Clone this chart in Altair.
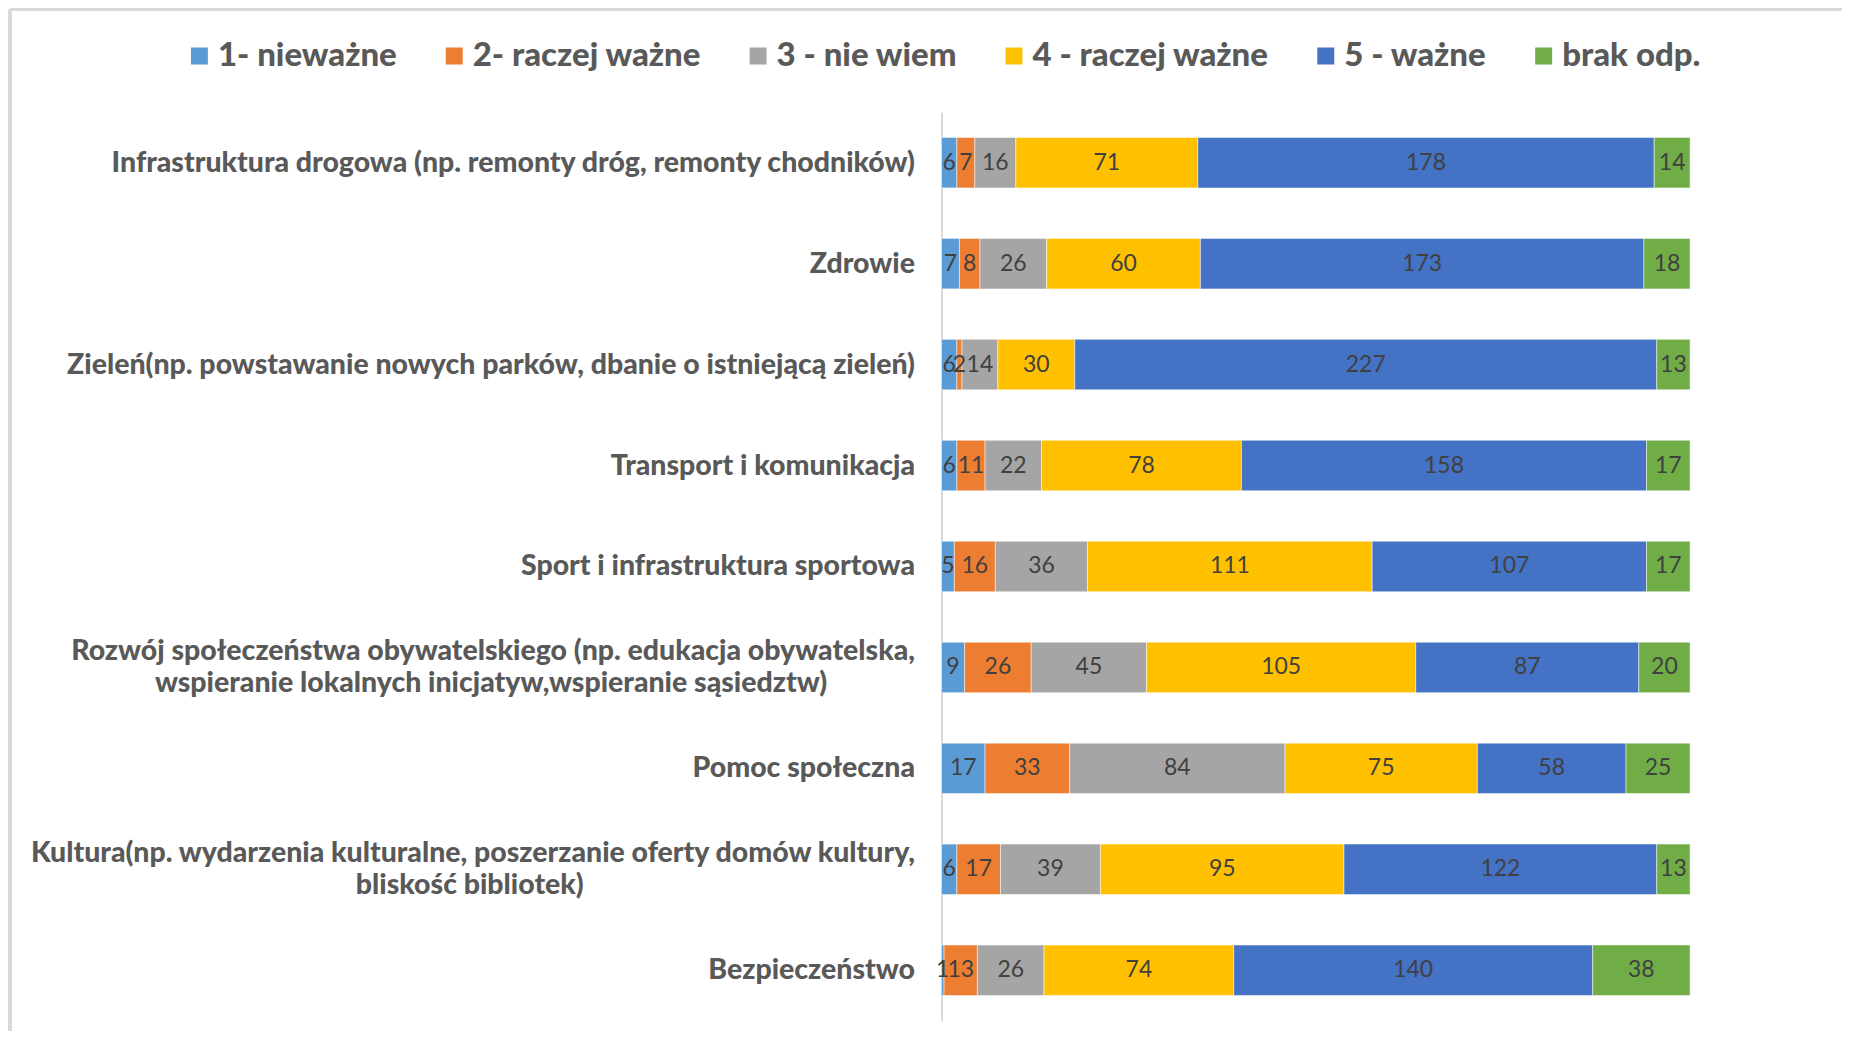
import altair as alt
import pandas as pd

categories = [
    "Infrastruktura drogowa (np. remonty dróg, remonty chodników)",
    "Zdrowie",
    "Zieleń(np. powstawanie nowych parków, dbanie o istniejącą zieleń)",
    "Transport i komunikacja",
    "Sport i infrastruktura sportowa",
    "Rozwój społeczeństwa obywatelskiego (np. edukacja obywatelska,|wspieranie lokalnych inicjatyw,wspieranie sąsiedztw)",
    "Pomoc społeczna",
    "Kultura(np. wydarzenia kulturalne, poszerzanie oferty domów kultury,|bliskość bibliotek)",
    "Bezpieczeństwo",
]
series = ["1- nieważne", "2- raczej ważne", "3 - nie wiem", "4 - raczej ważne", "5 - ważne", "brak odp."]
colors = ["#5B9BD5", "#ED7D31", "#A5A5A5", "#FFC000", "#4472C4", "#70AD47"]

s1 = [6, 7, 6, 6, 5, 9, 17, 6, 1]
s2 = [7, 8, 2, 11, 16, 26, 33, 17, 13]
s3 = [16, 26, 14, 22, 36, 45, 84, 39, 26]
s4 = [71, 60, 30, 78, 111, 105, 75, 95, 74]
s5 = [178, 173, 227, 158, 107, 87, 58, 122, 140]
s6 = [14, 18, 13, 17, 17, 20, 25, 13, 38]
values = [s1, s2, s3, s4, s5, s6]

rows = []
for si, (name, vals) in enumerate(zip(series, values)):
    for ci, cat in enumerate(categories):
        rows.append({"category": cat, "series": name, "idx": si, "value": vals[ci]})
df = pd.DataFrame(rows)

# Multi-line labels: the second line is padded so that it sits centred under the first one
NB = "\u00a0"
ZW = "\u200b"
pad_rozwoj = NB * 13 + ZW
pad_kultura = NB * 49 + ZW
label_expr = (
    "indexof(datum.label, '|') >= 0 ? "
    "[split(datum.label, '|')[0], split(datum.label, '|')[1] + "
    f"(indexof(datum.label, 'Rozwój') >= 0 ? '{pad_rozwoj}' : '{pad_kultura}')] "
    ": datum.label"
)

base = alt.Chart(df).transform_stack(
    stack="value", as_=["x0", "x1"], groupby=["category"], sort=[alt.SortField("idx")]
).transform_calculate(mid="(datum.x0 + datum.x1) / 2")

yenc = alt.Y(
    "category:N",
    sort=categories,
    title=None,
    scale=alt.Scale(paddingInner=0.5, paddingOuter=0.25),
    axis=alt.Axis(
        labelExpr=label_expr,
        labelFont="Lato",
        labelFontWeight=900,
        labelFontSize=28.5,
        labelColor="#595959",
        labelLimit=1000,
        labelPadding=27,
        labelLineHeight=32,
        labelOffset={"condition": {"test": "indexof(datum.label, '|') >= 0", "value": -16}, "value": 0},
        ticks=False,
        domainColor="#D9D9D9",
        domainWidth=2,
        grid=False,
    ),
)

xscale = alt.Scale(domain=[0, 292], nice=False)

bars = base.mark_bar(stroke="white", strokeWidth=0.5).encode(
    y=yenc,
    x=alt.X("x0:Q", scale=xscale, axis=None),
    x2="x1:Q",
    color=alt.Color(
        "series:N",
        scale=alt.Scale(domain=series, range=colors),
        legend=alt.Legend(
            title=None,
            orient="none",
            legendX=-759,
            legendY=-73,
            direction="horizontal",
            columns=6,
            symbolType="square",
            symbolSize=289,
            symbolStrokeWidth=0,
            labelFont="Lato",
            labelFontWeight=900,
            labelFontSize=33,
            labelColor="#595959",
            labelLimit=600,
            labelOffset=2,
            columnPadding=40,
        ),
    ),
)

labels = base.mark_text(font="Lato", fontSize=23, color="#404040", baseline="middle", align="center").encode(
    y=alt.Y("category:N", sort=categories),
    x=alt.X("mid:Q", scale=xscale),
    text="value:Q",
)

# light grey chart-area frame (left and top edges visible, as in the reference)
frame_left = alt.Chart(df).mark_rule(color="#D9D9D9", strokeWidth=2.5).encode(
    x=alt.value(-932), y=alt.value(-103), y2=alt.value(940)
)
frame_top = alt.Chart(df).mark_rule(color="#D9D9D9", strokeWidth=2.5).encode(
    x=alt.value(-932), x2=alt.value(920), y=alt.value(-103)
)

chart = (
    alt.layer(frame_left, frame_top, bars, labels)
    .properties(
        width=749,
        height=909,
        autosize=alt.AutoSizeParams(type="none"),
        padding={"left": 934, "top": 104, "right": 152, "bottom": 10},
    )
    .configure_view(stroke=None)
)

chart.save("out.html", embed_options={"renderer": "svg", "actions": False})
